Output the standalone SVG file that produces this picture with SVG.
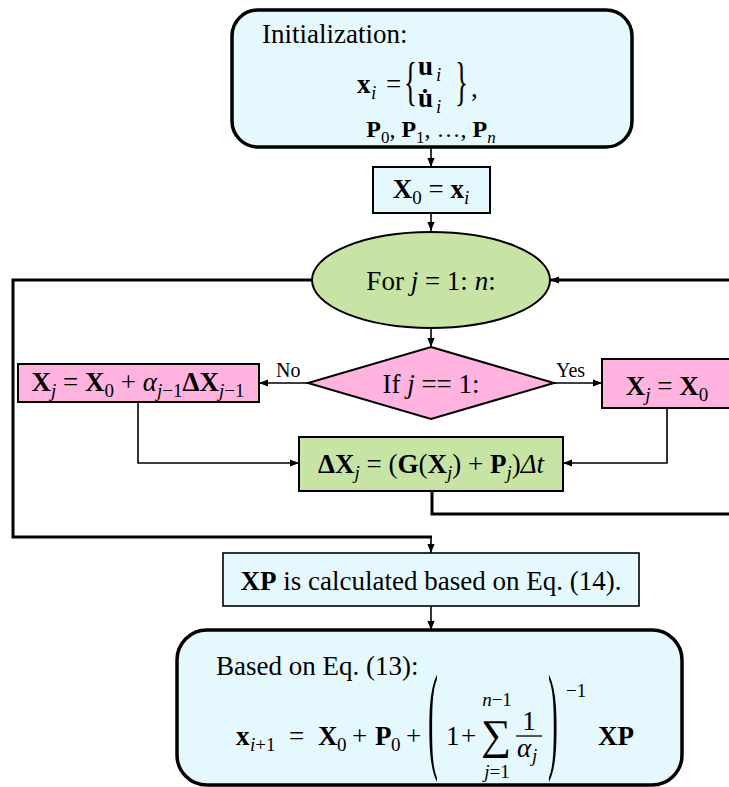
<svg xmlns="http://www.w3.org/2000/svg" width="729" height="787" viewBox="0 0 729 787">
<style>
.t{font-family:"Liberation Serif","DejaVu Serif",serif;font-size:27px;fill:#000}
.m{font-family:"Liberation Serif","DejaVu Serif",serif;font-size:27px;fill:#000}
.b{font-weight:bold}
.i{font-style:italic}
.s{font-size:19px}
.lbl{font-family:"Liberation Serif",serif;font-size:20px;fill:#000}
.cyan{fill:#E5F8FD;stroke:#000}
.green{fill:#C8E4A4;stroke:#000;stroke-width:2}
.pink{fill:#FFB3DE;stroke:#000;stroke-width:2}
.thin{fill:none;stroke:#000;stroke-width:1.6}
.thick{fill:none;stroke:#000;stroke-width:3}
</style>
<defs>
<marker id="ah" viewBox="0 0 10 10" refX="10" refY="5" markerWidth="9" markerHeight="9" markerUnits="userSpaceOnUse" orient="auto"><path d="M0,1 L10,5 L0,9 z" fill="#000"/></marker>
</defs>

<g id="connectors">
<path class="thin" d="M431,147 V167" marker-end="url(#ah)"/>
<path class="thin" d="M431,213 V231" marker-end="url(#ah)"/>
<path class="thin" d="M431,328 V347" marker-end="url(#ah)"/>
<path class="thin" d="M308,383 H259" marker-end="url(#ah)"/>
<path class="thin" d="M554,383 H602" marker-end="url(#ah)"/>
<path class="thin" d="M138,402 V463 H299" marker-end="url(#ah)"/>
<path class="thin" d="M667,408 V463 H563" marker-end="url(#ah)"/>
<path class="thin" d="M431,537 V553" marker-end="url(#ah)"/>
<path class="thin" d="M431,606 V630" marker-end="url(#ah)"/>
<path class="thick" d="M312,280 H13 V537 H432"/>
<path class="thick" d="M732,280 H550" marker-end="url(#ah)"/>
<path class="thick" d="M432,491 V514 H732"/>
<text class="lbl" x="276" y="377">No</text>
<text class="lbl" x="556" y="377">Yes</text>
</g>

<g id="init">
<rect class="cyan" x="232" y="10" width="400" height="137" rx="26" stroke-width="3.5"/>
<text class="t" x="262" y="43">Initialization:</text>
<text class="m b" x="357" y="93">x</text>
<text class="m s i" x="371" y="99">i</text>
<text class="m" x="386" y="93">=</text>
<text class="m" transform="translate(404,99) scale(1,1.95)">{</text>
<text class="m b" x="418" y="75">u</text>
<text class="m s i" x="436" y="81">i</text>
<text class="m b" x="418" y="107">u̇</text>
<text class="m s i" x="436" y="113">i</text>
<text class="m" transform="translate(455,99) scale(1,1.95)">}</text>
<text class="m" x="471" y="97">,</text>
<text class="m" x="431" y="137" text-anchor="middle" style="font-size:24px"><tspan class="b">P</tspan><tspan style="font-size:17px" dy="6">0</tspan><tspan dy="-6">, </tspan><tspan class="b">P</tspan><tspan style="font-size:17px" dy="6">1</tspan><tspan dy="-6">, …, </tspan><tspan class="b">P</tspan><tspan class="i" style="font-size:17px" dy="6">n</tspan></text>
</g>

<g id="x0">
<rect class="cyan" x="373" y="167" width="117" height="46" stroke-width="2"/>
<text class="m" x="431" y="198" text-anchor="middle"><tspan class="b">X</tspan><tspan class="s" dy="6">0</tspan><tspan dy="-6"> = </tspan><tspan class="b">x</tspan><tspan class="s i" dy="6">i</tspan></text>
</g>

<g id="loop">
<ellipse class="green" cx="431" cy="280" rx="119" ry="48"/>
<text class="t" x="431" y="290" text-anchor="middle">For <tspan class="i">j</tspan> = 1: <tspan class="i">n</tspan>:</text>
</g>

<g id="decision">
<polygon class="pink" points="431,347 554,383 431,419 308,383"/>
<text class="t" x="431" y="393" text-anchor="middle">If <tspan class="i">j</tspan> == 1:</text>
</g>

<g id="update-no">
<rect class="pink" x="18" y="364" width="241" height="38"/>
<text class="m" x="138" y="391" text-anchor="middle"><tspan class="b">X</tspan><tspan class="s i" dy="6">j</tspan><tspan dy="-6"> = </tspan><tspan class="b">X</tspan><tspan class="s" dy="6">0</tspan><tspan dy="-6"> + </tspan><tspan class="i">α</tspan><tspan class="s" dy="6"><tspan class="i">j</tspan>−1</tspan><tspan class="b" dy="-6">ΔX</tspan><tspan class="s" dy="6"><tspan class="i">j</tspan>−1</tspan></text>
</g>

<g id="update-yes">
<rect class="pink" x="602" y="359" width="140" height="49"/>
<text class="m" x="667" y="395" text-anchor="middle"><tspan class="b">X</tspan><tspan class="s i" dy="6">j</tspan><tspan dy="-6"> = </tspan><tspan class="b">X</tspan><tspan class="s" dy="6">0</tspan></text>
</g>

<g id="delta">
<rect class="green" x="299" y="437" width="264" height="54"/>
<text class="m" x="431" y="473" text-anchor="middle"><tspan class="b">ΔX</tspan><tspan class="s i" dy="6">j</tspan><tspan dy="-6"> = (</tspan><tspan class="b">G</tspan>(<tspan class="b">X</tspan><tspan class="s i" dy="6">j</tspan><tspan dy="-6">) + </tspan><tspan class="b">P</tspan><tspan class="s i" dy="6">j</tspan><tspan dy="-6">)</tspan><tspan class="i">Δt</tspan></text>
</g>

<g id="xp">
<rect class="cyan" x="223" y="553" width="416" height="53" stroke-width="1.6"/>
<text class="t" x="431" y="590" text-anchor="middle"><tspan class="b">XP</tspan> is calculated based on Eq. (14).</text>
</g>

<g id="result">
<rect class="cyan" x="177" y="630" width="505" height="155" rx="30" stroke-width="3.5"/>
<text class="t" x="216" y="675">Based on Eq. (13):</text>
<text class="m b" x="236" y="745">x</text>
<text class="m s" x="250" y="751"><tspan class="i">i</tspan>+1</text>
<text class="m" x="289" y="745">=</text>
<text class="m b" x="318" y="745">X</text>
<text class="m s" x="337" y="751">0</text>
<text class="m" x="352" y="745">+</text>
<text class="m b" x="375" y="745">P</text>
<text class="m s" x="391" y="751">0</text>
<text class="m" x="406" y="745">+</text>
<text class="m" transform="translate(428,757) scale(1.1,4.4)">(</text>
<text class="m" x="446" y="745">1</text>
<text class="m" x="461" y="745">+</text>
<text class="m" x="496" y="749" style="font-size:42px" text-anchor="middle">∑</text>
<text class="m s" x="497" y="706" text-anchor="middle"><tspan class="i">n</tspan>−1</text>
<text class="m s" x="497" y="778" text-anchor="middle"><tspan class="i">j</tspan>=1</text>
<text class="m" x="529" y="730" text-anchor="middle">1</text>
<line x1="516" y1="736" x2="542" y2="736" stroke="#000" stroke-width="1.3"/>
<text class="m i" x="517" y="757">α</text>
<text class="m s i" x="532" y="762">j</text>
<text class="m" transform="translate(548,757) scale(1.1,4.4)">)</text>
<text class="m s" x="566" y="697">−1</text>
<text class="m b" x="598" y="745">XP</text>
</g>
</svg>
